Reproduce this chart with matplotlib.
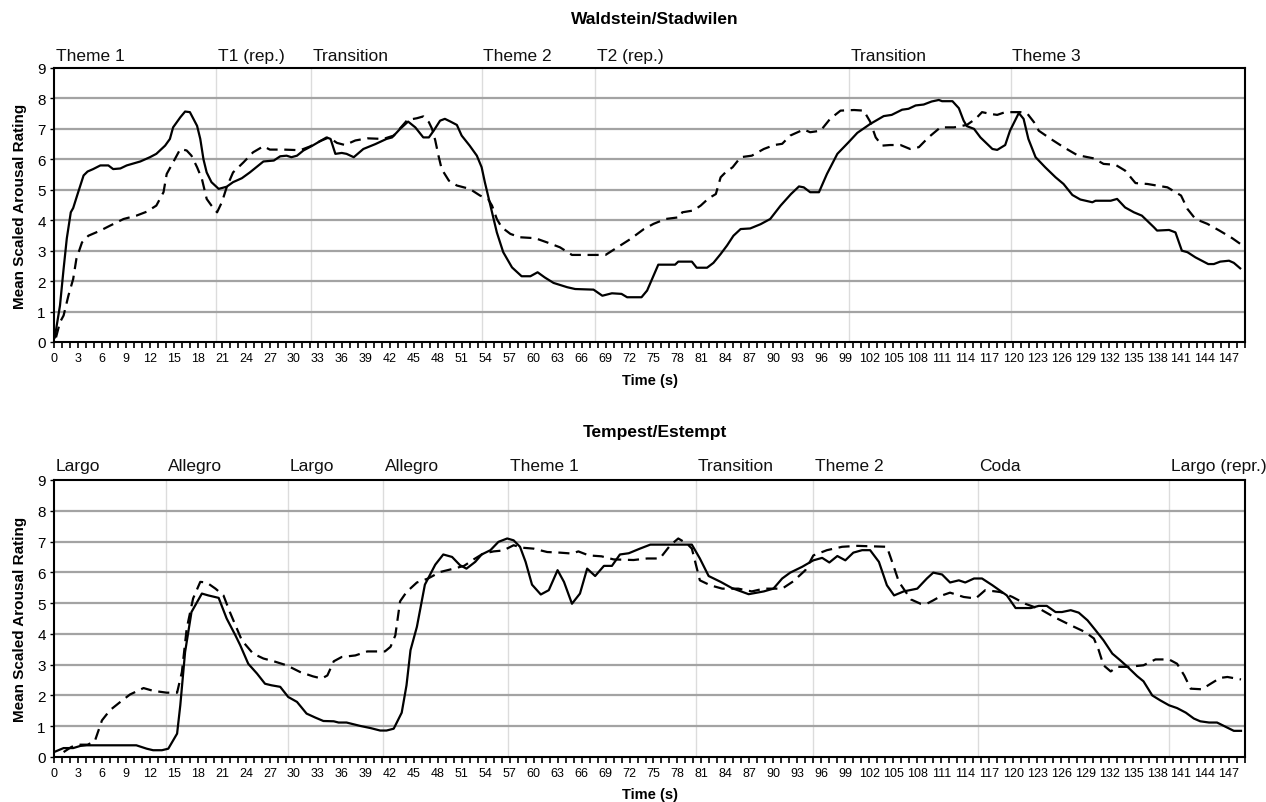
import matplotlib
matplotlib.use("Agg")
import matplotlib.pyplot as plt
import matplotlib.transforms as mtransforms
from matplotlib.ticker import MultipleLocator

plt.rcParams['font.family'] = ['Liberation Sans', 'DejaVu Sans']

# ---- Waldstein / Stadwilen ----
wald_solid_t = [0.1, 0.75, 1.2, 1.6, 2.1, 2.4, 3.0, 3.7, 4.2, 4.9, 5.8, 6.8, 7.4, 8.3, 9.1, 10.8, 12.0,
                12.8, 13.9, 14.5, 14.9, 15.8, 16.4, 17.0, 17.9, 18.3, 18.7, 19.1, 19.7, 20.6, 21.6, 22.4,
                23.5, 24.5, 26.2, 27.5, 28.3, 29.1, 29.7, 30.4, 31.2, 32.2, 33.3, 34.1, 34.6, 35.2, 36.0,
                36.6, 37.5, 38.7, 40.2, 41.6, 42.3, 43.3, 44.3, 45.2, 46.2, 46.9, 47.5, 48.3, 48.9, 49.6,
                50.4, 51.0, 52.0, 52.9, 53.5, 53.9, 54.6, 55.4, 56.2, 57.3, 58.5, 59.6, 60.5, 61.4, 62.5,
                64.2, 65.2, 67.5, 68.6, 69.8, 71.0, 71.7, 73.5, 74.2, 75.0, 75.6, 77.7, 78.1, 79.8, 80.4,
                81.7, 82.5, 83.4, 84.2, 85.0, 85.9, 87.1, 88.4, 89.6, 90.9, 92.2, 93.2, 93.8, 94.6, 95.7,
                96.7, 98.0, 99.4, 100.5, 102.1, 103.8, 104.8, 106.1, 106.9, 107.8, 108.8, 109.8, 110.7,
                111.1, 112.4, 113.2, 113.8, 114.2, 115.1, 115.9, 117.4, 118.0, 119.0, 119.6, 120.7, 121.3,
                121.9, 122.8, 124.0, 125.3, 126.3, 127.4, 128.4, 129.9, 130.3, 132.2, 133.0, 134.0, 135.1,
                136.1, 137.6, 138.0, 139.5, 140.3, 141.1, 141.8, 142.8, 144.4, 145.1, 145.9, 147.0, 147.6,
                148.4]
wald_solid_v = [0.15, 1.2, 2.4, 3.4, 4.26, 4.4, 4.9, 5.47, 5.6, 5.68, 5.8, 5.8, 5.68, 5.7, 5.8, 5.93, 6.07,
                6.18, 6.45, 6.67, 7.05, 7.38, 7.57, 7.55, 7.1, 6.67, 6.0, 5.57, 5.25, 5.03, 5.1, 5.25,
                5.38, 5.57, 5.93, 5.96, 6.1, 6.12, 6.07, 6.12, 6.29, 6.43, 6.6, 6.72, 6.67, 6.18, 6.21,
                6.18, 6.07, 6.34, 6.5, 6.67, 6.72, 7.0, 7.24, 7.05, 6.72, 6.72, 6.94, 7.27, 7.33, 7.24,
                7.13, 6.78, 6.45, 6.12, 5.74, 5.25, 4.48, 3.6, 2.95, 2.45, 2.16, 2.16, 2.29, 2.12, 1.94,
                1.8, 1.74, 1.72, 1.52, 1.6, 1.58, 1.47, 1.47, 1.69, 2.18, 2.54, 2.54, 2.64, 2.64, 2.44,
                2.44, 2.6, 2.89, 3.17, 3.49, 3.71, 3.73, 3.87, 4.04, 4.48, 4.86, 5.11, 5.08, 4.92, 4.92,
                5.52, 6.18, 6.56, 6.87, 7.16, 7.42, 7.46, 7.63, 7.66, 7.77, 7.8, 7.9, 7.95,
                7.91, 7.91, 7.68, 7.27, 7.09, 7.0, 6.72, 6.34, 6.31, 6.47, 6.94, 7.52, 7.33,
                6.67, 6.07, 5.74, 5.41, 5.19, 4.83, 4.68, 4.59, 4.64, 4.64, 4.7, 4.42, 4.26,
                4.15, 3.77, 3.66, 3.68, 3.6, 3.0, 2.95, 2.78, 2.56, 2.56, 2.64, 2.67, 2.6,
                2.42]

wald_dash_t = [0.25, 0.75, 1.2, 1.8, 2.4, 2.8, 3.5, 4.3, 5.8, 7.0, 8.7, 10.3, 11.6, 12.8, 13.7, 14.1, 14.9,
               15.8, 16.6, 17.2, 17.9, 18.5, 19.1, 19.7, 20.4, 21.0, 21.6, 22.4, 23.7, 24.9, 26.2, 27.0,
               28.7, 30.8, 32.0, 33.3, 34.4, 35.4, 36.4, 37.7, 39.2, 41.2, 42.5, 44.2, 45.4, 46.2, 46.9,
               47.3, 47.7, 48.1, 48.5, 49.4, 50.4, 52.0, 53.3, 54.3, 54.8, 55.4, 56.0, 57.1, 58.3, 60.2,
               61.7, 63.3, 64.8, 66.5, 69.0, 70.2, 72.1, 73.8, 75.0, 76.5, 78.3, 78.6, 80.0, 80.9, 81.9,
               82.8, 83.4, 84.0, 84.9, 85.9, 87.3, 88.8, 90.1, 91.1, 92.1, 93.8, 94.6, 95.9, 97.1, 98.4,
               100.1, 101.3, 102.1, 102.8, 103.6, 104.6, 105.9, 107.1, 108.2, 109.4, 110.9, 112.6, 114.2,
               115.3, 116.1, 117.2, 118.0, 119.0, 120.9, 121.8, 122.6, 123.2, 124.7, 126.3, 128.0, 130.1,
               131.3, 132.8, 134.0, 135.3, 136.8, 139.3, 141.0, 141.8, 142.8, 144.3, 145.8, 147.4, 148.7]
wald_dash_v = [0.15, 0.65, 0.87, 1.52, 2.07, 2.73, 3.27, 3.49, 3.66, 3.82, 4.04, 4.15, 4.28, 4.48, 4.92, 5.52, 5.9,
               6.34, 6.29, 6.12, 5.74, 5.36, 4.7, 4.48, 4.26, 4.59, 5.08, 5.57, 5.9, 6.23, 6.43, 6.32,
               6.32, 6.3, 6.42, 6.6, 6.72, 6.54, 6.47, 6.62, 6.69, 6.67, 6.78, 7.29, 7.35, 7.41, 7.22,
               7.0, 6.62, 6.12, 5.68, 5.3, 5.14, 5.03, 4.81, 4.7, 4.48, 4.04, 3.77, 3.55, 3.44, 3.41,
               3.27, 3.11, 2.86, 2.86, 2.86, 3.06, 3.38, 3.71, 3.88, 4.04, 4.1, 4.26, 4.32, 4.48, 4.72,
               4.86, 5.41, 5.57, 5.74, 6.07, 6.12, 6.34, 6.47, 6.51, 6.78, 6.98, 6.89, 6.94, 7.33, 7.6,
               7.62, 7.6, 7.24, 6.72, 6.45, 6.47, 6.47, 6.34, 6.4, 6.72, 7.05, 7.05, 7.13,
               7.33, 7.55, 7.49, 7.46, 7.55, 7.55, 7.49, 7.22, 6.94, 6.67, 6.4, 6.14, 6.03,
               5.85, 5.82, 5.63, 5.22, 5.19, 5.08, 4.81, 4.37, 4.04, 3.88, 3.66, 3.41, 3.17]

wald_sections = ["Theme 1", "T1 (rep.)", "Transition", "Theme 2", "T2 (rep.)", "Transition", "Theme 3"]
wald_section_t = [0, 20.3, 32.2, 53.5, 67.7, 99.5, 119.7]

# ---- Tempest / Estempt ----
temp_solid_t = [0, 1.2, 2.4, 3.3, 4.1, 10.3, 11.6, 12.4, 13.5, 14.3, 15.4, 15.8, 16.4, 17.2, 18.5, 19.3, 20.6,
                21.6, 22.7, 23.3, 24.3, 25.4, 26.4, 27.2, 28.3, 29.3, 30.4, 31.6, 32.7, 33.7, 35.0, 35.6,
                36.6, 38.3, 39.6, 40.8, 41.6, 42.5, 43.5, 44.1, 44.6, 45.4, 46.4, 47.7, 48.7, 49.8, 50.8,
                51.6, 52.7, 53.5, 54.6, 55.6, 56.7, 57.5, 58.3, 59.0, 59.8, 60.9, 61.9, 63.0, 63.8, 64.8,
                65.8, 66.7, 67.7, 68.8, 69.8, 70.8, 71.9, 73.3, 74.6, 79.8, 80.8, 81.9, 83.4, 84.8, 86.9,
                88.8, 90.0, 91.1, 92.1, 93.6, 95.0, 96.1, 97.0, 98.0, 99.0, 100.0, 101.1, 102.1, 103.2,
                104.2, 105.1, 106.3, 108.0, 109.2, 110.0, 111.1, 112.1, 113.2, 114.0, 115.1, 116.1, 117.4,
                119.2, 120.3, 122.2, 123.2, 124.2, 125.3, 126.1, 127.2, 128.2, 129.3, 130.3, 131.3, 132.4,
                133.4, 134.3, 135.5, 136.3, 137.4, 138.4, 139.5, 140.5, 141.6, 142.6, 143.4, 144.5, 145.5,
                146.6, 147.6, 148.5]
temp_solid_v = [0.16, 0.29, 0.29, 0.36, 0.38, 0.38, 0.27, 0.22, 0.22, 0.27, 0.76, 1.68, 3.41, 4.71, 5.31, 5.25, 5.17,
                4.5, 3.95, 3.63, 3.03, 2.71, 2.38, 2.33, 2.28, 1.95, 1.79, 1.41, 1.28, 1.17, 1.16, 1.12,
                1.12, 1.01, 0.94, 0.86, 0.86, 0.92, 1.44, 2.33, 3.47, 4.23, 5.6, 6.25, 6.58, 6.5, 6.23,
                6.12, 6.34, 6.58, 6.72, 6.99, 7.1, 7.04, 6.83, 6.34, 5.6, 5.28, 5.42, 6.07, 5.69, 4.98,
                5.31, 6.12, 5.88, 6.21, 6.21, 6.58, 6.62, 6.77, 6.9, 6.9, 6.45, 5.88, 5.69, 5.49, 5.29,
                5.38, 5.47, 5.8, 5.99, 6.18, 6.39, 6.47, 6.32, 6.53, 6.39, 6.64, 6.72, 6.72, 6.34,
                5.58, 5.25, 5.38, 5.47, 5.8, 5.99, 5.93, 5.67, 5.74, 5.67, 5.8, 5.8, 5.58,
                5.25, 4.84, 4.84, 4.91, 4.91, 4.71, 4.71, 4.77, 4.69, 4.44, 4.12, 3.79, 3.36,
                3.14, 2.93, 2.63, 2.46, 2.0, 1.84, 1.68, 1.59, 1.44, 1.25, 1.16, 1.12, 1.12,
                0.98, 0.85, 0.85]

temp_dash_t = [1.2, 2.2, 3.3, 4.2, 5.1, 6.0, 7.0, 8.3, 9.5, 11.2, 12.4, 14.1, 15.4, 16.0, 16.6, 17.4, 18.3,
               19.1, 20.2, 21.2, 22.0, 22.7, 23.5, 24.9, 26.2, 27.5, 29.1, 30.8, 32.4, 33.5, 34.2, 35.0,
               36.0, 37.7, 39.2, 41.4, 42.1, 42.7, 43.3, 44.1, 45.4, 46.8, 48.3, 50.0, 51.3, 52.5, 53.7,
               55.0, 56.2, 57.5, 58.6, 60.0, 61.7, 63.3, 64.8, 65.6, 66.9, 68.5, 70.0, 72.5, 74.2, 75.8,
               77.1, 78.1, 79.2, 79.8, 80.8, 82.1, 83.6, 85.6, 87.3, 88.8, 91.1, 92.5, 94.0, 95.0, 96.7,
               98.6, 100.5, 104.2, 105.0, 105.7, 107.2, 108.4, 109.2, 110.0, 111.1, 112.1, 113.8, 115.3,
               116.5, 118.4, 119.9, 121.5, 123.4, 125.1, 127.2, 129.0, 130.1, 130.7, 131.3, 132.2, 133.0,
               134.4, 136.3, 137.8, 139.5, 140.5, 141.4, 142.2, 143.6, 144.7, 145.9, 146.8, 148.5]
temp_dash_v = [0.16, 0.33, 0.4, 0.4, 0.51, 1.19, 1.52, 1.79, 2.03, 2.24, 2.15, 2.09, 2.09, 2.76, 4.17, 5.15, 5.69,
               5.67, 5.47, 5.25, 4.71, 4.28, 3.79, 3.36, 3.2, 3.11, 2.98, 2.76, 2.62, 2.55, 2.65, 3.11,
               3.25, 3.3, 3.43, 3.43, 3.58, 3.95, 5.06, 5.36, 5.67, 5.8, 6.01, 6.12, 6.21, 6.42, 6.61,
               6.68, 6.71, 6.88, 6.8, 6.77, 6.66, 6.64, 6.61, 6.68, 6.55, 6.52, 6.42, 6.4, 6.45, 6.45,
               6.88, 7.1, 6.93, 6.77, 5.74, 5.58, 5.47, 5.47, 5.38, 5.47, 5.47, 5.71, 6.07, 6.55, 6.72,
               6.83, 6.86, 6.83, 6.23, 5.69, 5.12, 4.98, 4.98, 5.09, 5.25, 5.34, 5.2, 5.15,
               5.42, 5.36, 5.2, 4.98, 4.8, 4.55, 4.28, 4.06, 3.85, 3.47, 2.98, 2.78, 2.93,
               2.93, 2.98, 3.17, 3.17, 3.03, 2.65, 2.22, 2.2, 2.38, 2.57, 2.6, 2.52]

temp_sections = ["Largo", "Allegro", "Largo", "Allegro", "Theme 1", "Transition", "Theme 2", "Coda",
                 "Largo (repr.)"]
temp_section_t = [0, 14.0, 29.3, 41.2, 56.8, 80.3, 95.0, 115.6, 139.5]

W, H = 1266, 803
fig = plt.figure(figsize=(W / 100, H / 100), dpi=100)


def draw_panel(rect, title, title_y, xlabel_y, label_base, solid_t, solid_v, dash_t, dash_v,
               sections, section_t):
    ax = fig.add_axes(rect)
    ax.set_xlim(0, 149)
    ax.set_ylim(0, 9)
    # horizontal grid
    for yv in range(1, 9):
        ax.axhline(yv, color='#a3a3a3', lw=1.6, zorder=1)
    # section boundaries and their names above the frame
    trans = mtransforms.blended_transform_factory(ax.transData, fig.transFigure)
    for name, t in zip(sections, section_t):
        if t > 0:
            ax.axvline(t, color='#dcdcdc', lw=1.0, zorder=0.5)
        ax.text(t + 0.2, 1 - label_base / H, name, transform=trans, ha='left', va='baseline',
                fontsize=12.5, color='#111111')
    ax.plot(solid_t, solid_v, color='black', lw=1.6, solid_joinstyle='round', zorder=3)
    ax.plot(dash_t, dash_v, color='black', lw=1.6, dashes=(5, 3), zorder=3)
    ax.xaxis.set_major_locator(MultipleLocator(3))
    ax.xaxis.set_minor_locator(MultipleLocator(1))
    ax.yaxis.set_major_locator(MultipleLocator(1))
    ax.tick_params(axis='x', which='both', direction='out', length=4, width=1.2, labelsize=9,
                   pad=3, colors='black')
    ax.tick_params(axis='y', which='major', direction='out', length=3, width=1.0, labelsize=11,
                   pad=3)
    for sp in ax.spines.values():
        sp.set_linewidth(1.5)
        sp.set_color('black')
    ax.set_ylabel('Mean Scaled Arousal Rating', fontsize=11, fontweight='bold', labelpad=7)
    cx = rect[0] + rect[2] / 2
    fig.text(cx + 0.004, 1 - title_y / H, title, ha='center', va='center', fontsize=12.5,
             fontweight='bold')
    fig.text(cx, 1 - xlabel_y / H, 'Time (s)', ha='center', va='center', fontsize=10.5,
             fontweight='bold')
    return ax


left = 54 / W
width = (1245 - 54) / W
draw_panel([left, 1 - 343 / H, width, (343 - 69) / H], 'Waldstein/Stadwilen', 20, 381, 61,
           wald_solid_t, wald_solid_v, wald_dash_t, wald_dash_v, wald_sections, wald_section_t)
draw_panel([left, 1 - 758 / H, width, (758 - 481) / H], 'Tempest/Estempt', 432, 795, 471,
           temp_solid_t, temp_solid_v, temp_dash_t, temp_dash_v, temp_sections, temp_section_t)

fig.savefig('out.png', dpi=100)
